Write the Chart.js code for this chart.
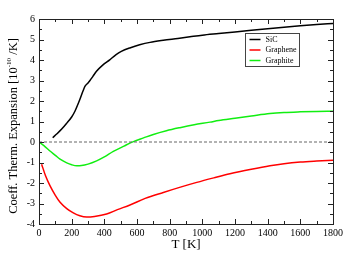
<!DOCTYPE html>
<html>
<head>
<meta charset="utf-8">
<script src="https://cdn.jsdelivr.net/npm/chart.js@4"></script>
<style>
  html, body { margin: 0; padding: 0; background: #fff; }
  #wrap { width: 352px; height: 256px; }
</style>
</head>
<body>
<div id="wrap"><canvas id="chart"></canvas></div>
<script>
// data
const sicT = [84, 110, 139, 170, 200, 220, 250, 270, 282, 300, 312, 330, 352, 390, 433, 470, 504, 560, 616, 680, 761, 850, 924, 1000, 1100, 1200, 1300, 1400, 1500, 1600, 1700, 1800];
const sicV = [0.21, 0.4, 0.63, 0.92, 1.22, 1.5, 2.07, 2.5, 2.72, 2.88, 3.0, 3.2, 3.45, 3.75, 4.01, 4.25, 4.42, 4.6, 4.74, 4.86, 4.96, 5.05, 5.13, 5.21, 5.29, 5.37, 5.45, 5.53, 5.6, 5.67, 5.73, 5.78];

const grapheneT = [16, 40, 67, 100, 129, 170, 210, 250, 292, 340, 414, 480, 557, 650, 761, 866, 966, 1070, 1169, 1300, 1414, 1500, 1600, 1700, 1800];
const grapheneV = [-1.08, -1.65, -2.13, -2.6, -2.94, -3.25, -3.46, -3.6, -3.66, -3.63, -3.51, -3.3, -3.07, -2.75, -2.46, -2.2, -1.97, -1.75, -1.55, -1.33, -1.16, -1.06, -0.98, -0.93, -0.89];

const graphiteT = [0, 30, 67, 100, 129, 170, 200, 231, 260, 300, 353, 400, 455, 520, 578, 640, 700, 780, 863, 950, 1047, 1100, 1200, 1300, 1414, 1500, 1600, 1700, 1800];
const graphiteV = [0, -0.18, -0.44, -0.65, -0.84, -1.02, -1.11, -1.16, -1.15, -1.08, -0.92, -0.73, -0.46, -0.2, 0.02, 0.2, 0.37, 0.55, 0.7, 0.84, 0.97, 1.05, 1.16, 1.27, 1.39, 1.44, 1.47, 1.49, 1.5];

const zeroT = [0, 1800];
const zeroV = [0, 0];

const seriesNames = ['SiC', 'Graphene', 'Graphite'];
const seriesColors = ['#000000', '#ff0000', '#11ee11'];

const serif = "'Liberation Serif', 'DejaVu Serif', serif";

function pts(xs, ys) {
  return xs.map((x, i) => ({ x: x, y: ys[i] }));
}

// frame, inward ticks on all four sides, y title, legend
const decor = {
  id: 'decor',
  afterDraw(chart) {
    const ctx = chart.ctx;
    const a = chart.chartArea;
    const xs = chart.scales.x;
    const ys = chart.scales.y;
    ctx.save();
    ctx.strokeStyle = '#222';
    ctx.lineWidth = 1;
    ctx.strokeRect(Math.round(a.left) + 0.5, Math.round(a.top) + 0.5, Math.round(a.right - a.left), Math.round(a.bottom - a.top));

    ctx.beginPath();
    for (let v = 0; v <= 1800; v += 100) {
      const len = v % 200 === 0 ? 5 : 3;
      const px = Math.round(xs.getPixelForValue(v)) + 0.5;
      ctx.moveTo(px, a.bottom); ctx.lineTo(px, a.bottom - len);
      ctx.moveTo(px, a.top); ctx.lineTo(px, a.top + len);
    }
    for (let v = -4; v <= 6; v += 0.5) {
      const len = Number.isInteger(v) ? 5 : 3;
      const py = Math.round(ys.getPixelForValue(v)) + 0.5;
      ctx.moveTo(a.left, py); ctx.lineTo(a.left + len, py);
      ctx.moveTo(a.right, py); ctx.lineTo(a.right - len, py);
    }
    ctx.stroke();

    // y axis title with superscript
    const big = '12.5px ' + serif;
    const small = '7px ' + serif;
    const p1 = 'Coeff. Therm. Expansion [10';
    const p2 = '-10';
    const p3 = ' /K]';
    ctx.font = big;
    const w1 = ctx.measureText(p1).width;
    const w3 = ctx.measureText(p3).width;
    ctx.font = small;
    const w2 = ctx.measureText(p2).width;
    const total = w1 + w2 + w3;
    ctx.translate(14, 126);
    ctx.rotate(-Math.PI / 2);
    ctx.fillStyle = '#000';
    ctx.textBaseline = 'middle';
    ctx.textAlign = 'left';
    let cx = -total / 2;
    ctx.font = big; ctx.fillText(p1, cx, 0); cx += w1;
    ctx.font = small; ctx.fillText(p2, cx, -5); cx += w2;
    ctx.font = big; ctx.fillText(p3, cx, 0);
    ctx.setTransform(1, 0, 0, 1, 0, 0);

    // legend box
    const bx = 245.5, by = 33.5, bw = 54, bh = 33;
    ctx.strokeStyle = '#444';
    ctx.fillStyle = '#fff';
    ctx.fillRect(bx, by, bw, bh);
    ctx.strokeRect(bx, by, bw, bh);
    ctx.font = '8px ' + serif;
    ctx.textBaseline = 'middle';
    seriesNames.forEach((name, i) => {
      const ly = by + 6 + i * 10.5;
      ctx.strokeStyle = seriesColors[i];
      ctx.lineWidth = 1.5;
      ctx.beginPath();
      ctx.moveTo(bx + 4, ly); ctx.lineTo(bx + 15, ly);
      ctx.stroke();
      ctx.fillStyle = '#000';
      ctx.fillText(name, bx + 20, ly);
    });
    ctx.restore();
  }
};

const ctx = document.getElementById('chart').getContext('2d');
new Chart(ctx, {
  type: 'scatter',
  data: {
    datasets: [
      {
        label: 'zero',
        data: pts(zeroT, zeroV),
        showLine: true,
        borderColor: '#666',
        borderWidth: 1,
        borderDash: [3, 2],
        pointRadius: 0
      },
      {
        label: seriesNames[0],
        data: pts(sicT, sicV),
        showLine: true,
        borderColor: seriesColors[0],
        borderWidth: 1.5,
        pointRadius: 0,
        cubicInterpolationMode: 'monotone'
      },
      {
        label: seriesNames[1],
        data: pts(grapheneT, grapheneV),
        showLine: true,
        borderColor: seriesColors[1],
        borderWidth: 1.5,
        pointRadius: 0,
        cubicInterpolationMode: 'monotone'
      },
      {
        label: seriesNames[2],
        data: pts(graphiteT, graphiteV),
        showLine: true,
        borderColor: seriesColors[2],
        borderWidth: 1.5,
        pointRadius: 0,
        cubicInterpolationMode: 'monotone'
      }
    ]
  },
  options: {
    responsive: true,
    maintainAspectRatio: false,
    animation: false,
    layout: { padding: { left: 0, right: 19, top: 19, bottom: 4 } },
    plugins: {
      legend: { display: false },
      tooltip: { enabled: false }
    },
    scales: {
      x: {
        type: 'linear',
        min: 0,
        max: 1800,
        grid: { display: false, drawTicks: false },
        border: { display: false },
        ticks: {
          stepSize: 200,
          padding: 3,
          color: '#000',
          maxRotation: 0,
          font: { family: serif, size: 10 },
          callback: v => String(v)
        },
        title: {
          display: true,
          text: 'T [K]',
          color: '#000',
          padding: 0,
          font: { family: serif, size: 13 }
        },
        afterFit(scale) { scale.height = 28; }
      },
      y: {
        type: 'linear',
        min: -4,
        max: 6,
        grid: { display: false, drawTicks: false },
        border: { display: false },
        ticks: {
          stepSize: 1,
          padding: 4,
          color: '#000',
          font: { family: serif, size: 10 },
          callback: v => String(v)
        },
        afterFit(scale) { scale.width = 39; }
      }
    }
  },
  plugins: [decor]
});
</script>
</body>
</html>
